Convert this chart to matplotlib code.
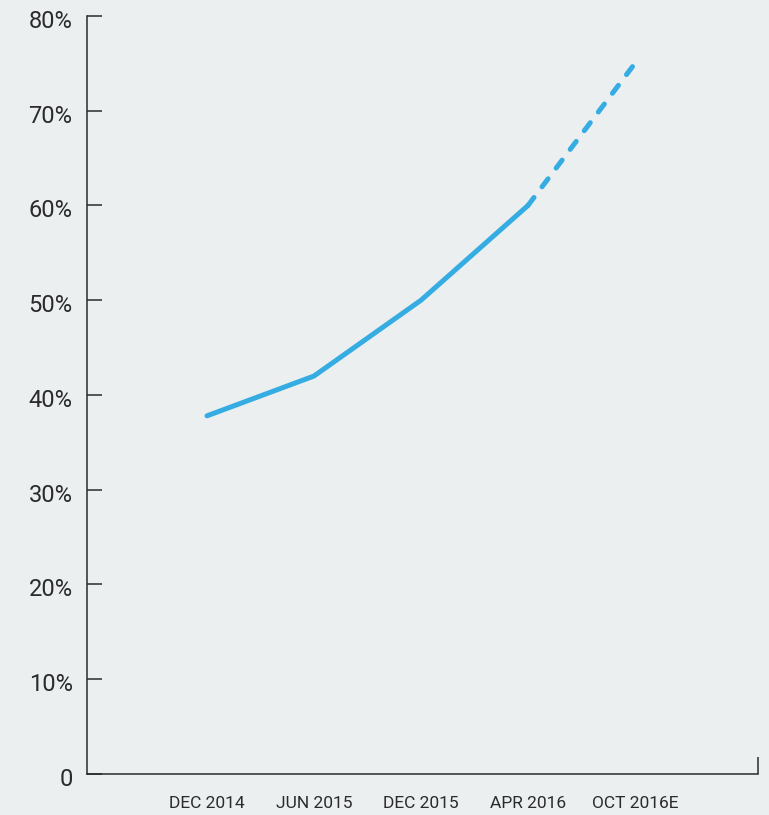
import matplotlib.pyplot as plt
import matplotlib.transforms as mtrans

plt.rcParams['font.family'] = ['Roboto', 'DejaVu Sans']

periods = ['DEC 2014', 'JUN 2015', 'DEC 2015', 'APR 2016', 'OCT 2016E']
share = [37.8, 42, 50, 60, 75]
n_actual = 4  # last point is an estimate

y_ticks = [0, 10, 20, 30, 40, 50, 60, 70, 80]
y_labels = ['0'] + [f'{v}%' for v in y_ticks[1:]]

bg = '#ebeff0'
blue = '#35ade2'
ink = '#2b2b2b'

fig = plt.figure(figsize=(7.69, 8.15), dpi=100, facecolor=bg)
ax = fig.add_axes([0.1125, 0.0503, 0.8732, 0.9301], facecolor=bg)

x = list(range(len(periods)))
ax.plot(x[:n_actual], share[:n_actual], color=blue, lw=3.6,
        solid_capstyle='round', solid_joinstyle='round')
ax.plot(x[n_actual - 1:], share[n_actual - 1:], color=blue, lw=3.6,
        linestyle=(0, (2.0, 2.68)), dash_capstyle='round')

ax.set_xlim(-1.126, 5.15)
ax.set_ylim(0, 80)

for s in ['top', 'right']:
    ax.spines[s].set_visible(False)
for s in ['left', 'bottom']:
    ax.spines[s].set_color(ink)
    ax.spines[s].set_linewidth(1.1)

ax.set_yticks(y_ticks)
ax.set_yticklabels(y_labels, fontsize=17, color=ink)
ax.tick_params(axis='y', direction='in', length=11, width=1.1, color=ink, pad=10)
shift = mtrans.ScaledTranslation(0, -3 / 100, fig.dpi_scale_trans)
for lab in ax.get_yticklabels():
    lab.set_transform(lab.get_transform() + shift)

ax.set_xticks(x)
ax.set_xticklabels(periods, fontsize=12.5, color=ink)
ax.tick_params(axis='x', length=0, pad=16)

# end tick on the right of the x axis
ax.set_xticks([5.15], minor=True)
ax.tick_params(axis='x', which='minor', direction='in', length=12, width=1.1, color=ink)

fig.savefig('out.png', dpi=100, facecolor=bg)
